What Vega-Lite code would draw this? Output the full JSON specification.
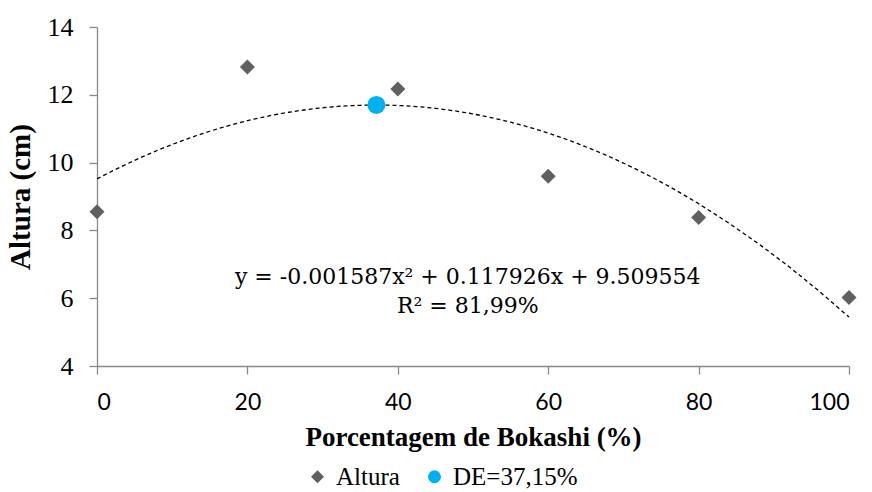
{
  "$schema": "https://vega.github.io/schema/vega-lite/v6.json",
  "width": 752,
  "height": 339,
  "autosize": "none",
  "padding": {"left": 97, "top": 27, "right": 23, "bottom": 126},
  "background": "white",
  "config": {"view": {"stroke": null}},
  "datasets": {
    "altura": [
      {"x": 0, "y": 8.55, "serie": "Altura"},
      {"x": 20, "y": 12.82, "serie": "Altura"},
      {"x": 40, "y": 12.17, "serie": "Altura"},
      {"x": 60, "y": 9.6, "serie": "Altura"},
      {"x": 80, "y": 8.38, "serie": "Altura"},
      {"x": 100, "y": 6.02, "serie": "Altura"}
    ],
    "de": [{"x": 37.15, "y": 11.7, "serie": "DE=37,15%"}],
    "eq": [
      {"x": 49.3, "y": 6.62, "label": "y = -0.001587x² + 0.117926x + 9.509554"},
      {"x": 49.3, "y": 5.76, "label": "R² = 81,99%"}
    ]
  },
  "layer": [
    {
      "data": {"name": "altura"},
      "transform": [
        {"regression": "y", "on": "x", "method": "poly", "order": 2, "extent": [0, 100]}
      ],
      "mark": {"type": "line", "color": "black", "strokeDash": [4, 3], "strokeWidth": 1.3},
      "encoding": {
        "x": {
          "field": "x", "type": "quantitative",
          "scale": {"domain": [0, 100], "nice": false, "zero": false},
          "axis": {
            "values": [0, 20, 40, 60, 80, 100],
            "grid": false,
            "domainColor": "#898989", "domainWidth": 1.3,
            "tickColor": "#898989", "tickWidth": 1.3, "tickSize": 8,
            "labelFont": "Lato", "labelFontSize": 23, "labelColor": "black", "labelPadding": 17,
            "title": "Porcentagem de Bokashi (%)",
            "titleFont": "Liberation Serif", "titleFontSize": 27, "titleFontWeight": "bold",
            "titleColor": "black", "titlePadding": 10
          }
        },
        "y": {
          "field": "y", "type": "quantitative",
          "scale": {"domain": [4, 14], "nice": false, "zero": false},
          "axis": {
            "values": [4, 6, 8, 10, 12, 14],
            "grid": false,
            "domainColor": "#898989", "domainWidth": 1.3,
            "tickColor": "#898989", "tickWidth": 1.3, "tickSize": 8,
            "labelFont": "Liberation Serif", "labelFontSize": 26, "labelColor": "black", "labelPadding": 16,
            "title": "Altura (cm)",
            "titleFont": "Liberation Serif", "titleFontSize": 29, "titleFontWeight": "bold",
            "titleColor": "black", "titlePadding": 12
          }
        }
      }
    },
    {
      "data": {"name": "altura"},
      "mark": {"type": "point", "filled": true, "size": 225, "opacity": 1},
      "encoding": {
        "x": {"field": "x", "type": "quantitative"},
        "y": {"field": "y", "type": "quantitative"},
        "color": {
          "field": "serie", "type": "nominal",
          "scale": {"domain": ["Altura", "DE=37,15%"], "range": ["#606060", "#00B0F0"]},
          "legend": {
            "title": null, "orient": "none", "direction": "horizontal",
            "legendX": 208, "legendY": 437,
            "labelFont": "Liberation Serif", "labelFontSize": 25, "labelColor": "black",
            "symbolSize": 170, "columnPadding": 22, "labelOffset": 6
          }
        },
        "shape": {
          "field": "serie", "type": "nominal",
          "scale": {"domain": ["Altura", "DE=37,15%"], "range": ["diamond", "circle"]},
          "legend": {
            "title": null, "orient": "none", "direction": "horizontal",
            "legendX": 208, "legendY": 437,
            "labelFont": "Liberation Serif", "labelFontSize": 25, "labelColor": "black",
            "symbolSize": 170, "columnPadding": 22, "labelOffset": 6
          }
        }
      }
    },
    {
      "data": {"name": "de"},
      "mark": {"type": "point", "filled": true, "size": 324, "opacity": 1},
      "encoding": {
        "x": {"field": "x", "type": "quantitative"},
        "y": {"field": "y", "type": "quantitative"},
        "color": {"field": "serie", "type": "nominal"},
        "shape": {"field": "serie", "type": "nominal"}
      }
    },
    {
      "data": {"name": "eq"},
      "mark": {"type": "text", "font": "DejaVu Serif", "fontSize": 22, "color": "black", "align": "center", "baseline": "middle"},
      "encoding": {
        "x": {"field": "x", "type": "quantitative"},
        "y": {"field": "y", "type": "quantitative"},
        "text": {"field": "label"}
      }
    }
  ]
}
